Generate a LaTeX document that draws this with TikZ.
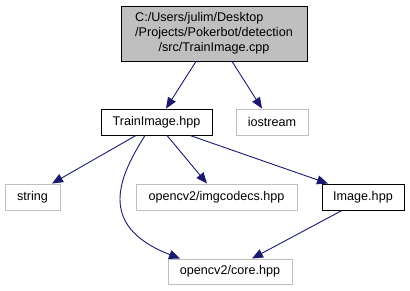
\documentclass[tikz,border=0pt]{standalone}
\usepackage{fontspec}
\setmainfont{Liberation Sans}
\usetikzlibrary{arrows.meta}
\definecolor{edgeblue}{HTML}{191970}
\definecolor{filegray}{HTML}{BFBFBF}

\begin{document}
\begin{tikzpicture}[
          x=1pt, y=-1pt,
          file/.style={draw=black, line width=0.9pt, fill=white, inner sep=0pt, minimum height=26pt, font=\fontsize{12.6}{15}\selectfont},
          ext/.style={file, draw=filegray},
          dep/.style={draw=edgeblue, line width=0.9pt, -{Triangle[length=11pt, width=9pt]}}
      ]
        \useasboundingbox (0,0) rectangle (410,291);
        % include graph nodes
        \node[file, fill=filegray, minimum width=186pt, minimum height=55pt] (src) at (214,33.5)
          {\begin{tabular}{@{}l@{}}C:/Users/julim/Desktop\\/Projects/Pokerbot/detection\\\multicolumn{1}{@{}c@{}}{/src/TrainImage.cpp}\end{tabular}};
        \node[file, minimum width=111pt] (hpp) at (156.5,122) {TrainImage.hpp};
        \node[ext, minimum width=72pt] (io) at (272,122) {iostream};
        \node[ext, minimum width=55pt] (str) at (32.5,197) {string};
        \node[ext, minimum width=161pt] (codecs) at (216.5,197) {opencv2/imgcodecs.hpp};
        \node[file, minimum width=82pt] (img) at (363,197) {Image.hpp};
        \node[ext, minimum width=124pt, minimum height=25pt] (core) at (230,271.5) {opencv2/core.hpp};
        % edges
        \draw[dep] ([xshift=-18]src.south) -- ([xshift=9.5]hpp.north);
        \draw[dep] ([xshift=18]src.south) -- ([xshift=-10]io.north);
        \draw[dep] ([xshift=-20.5]hpp.south) -- ([xshift=19.5]str.north);
        \draw[dep] ([xshift=-11.5]hpp.south) .. controls +(-25,40) and +(-85,-33) .. ([xshift=-50]core.north);
        \draw[dep] ([xshift=10.5]hpp.south) -- ([xshift=-9.5]codecs.north);
        \draw[dep] ([xshift=33.5]hpp.south) -- ([xshift=-35]img.north);
        \draw[dep] ([xshift=-21]img.south) -- ([xshift=22]core.north);
      \end{tikzpicture}
\end{document}
